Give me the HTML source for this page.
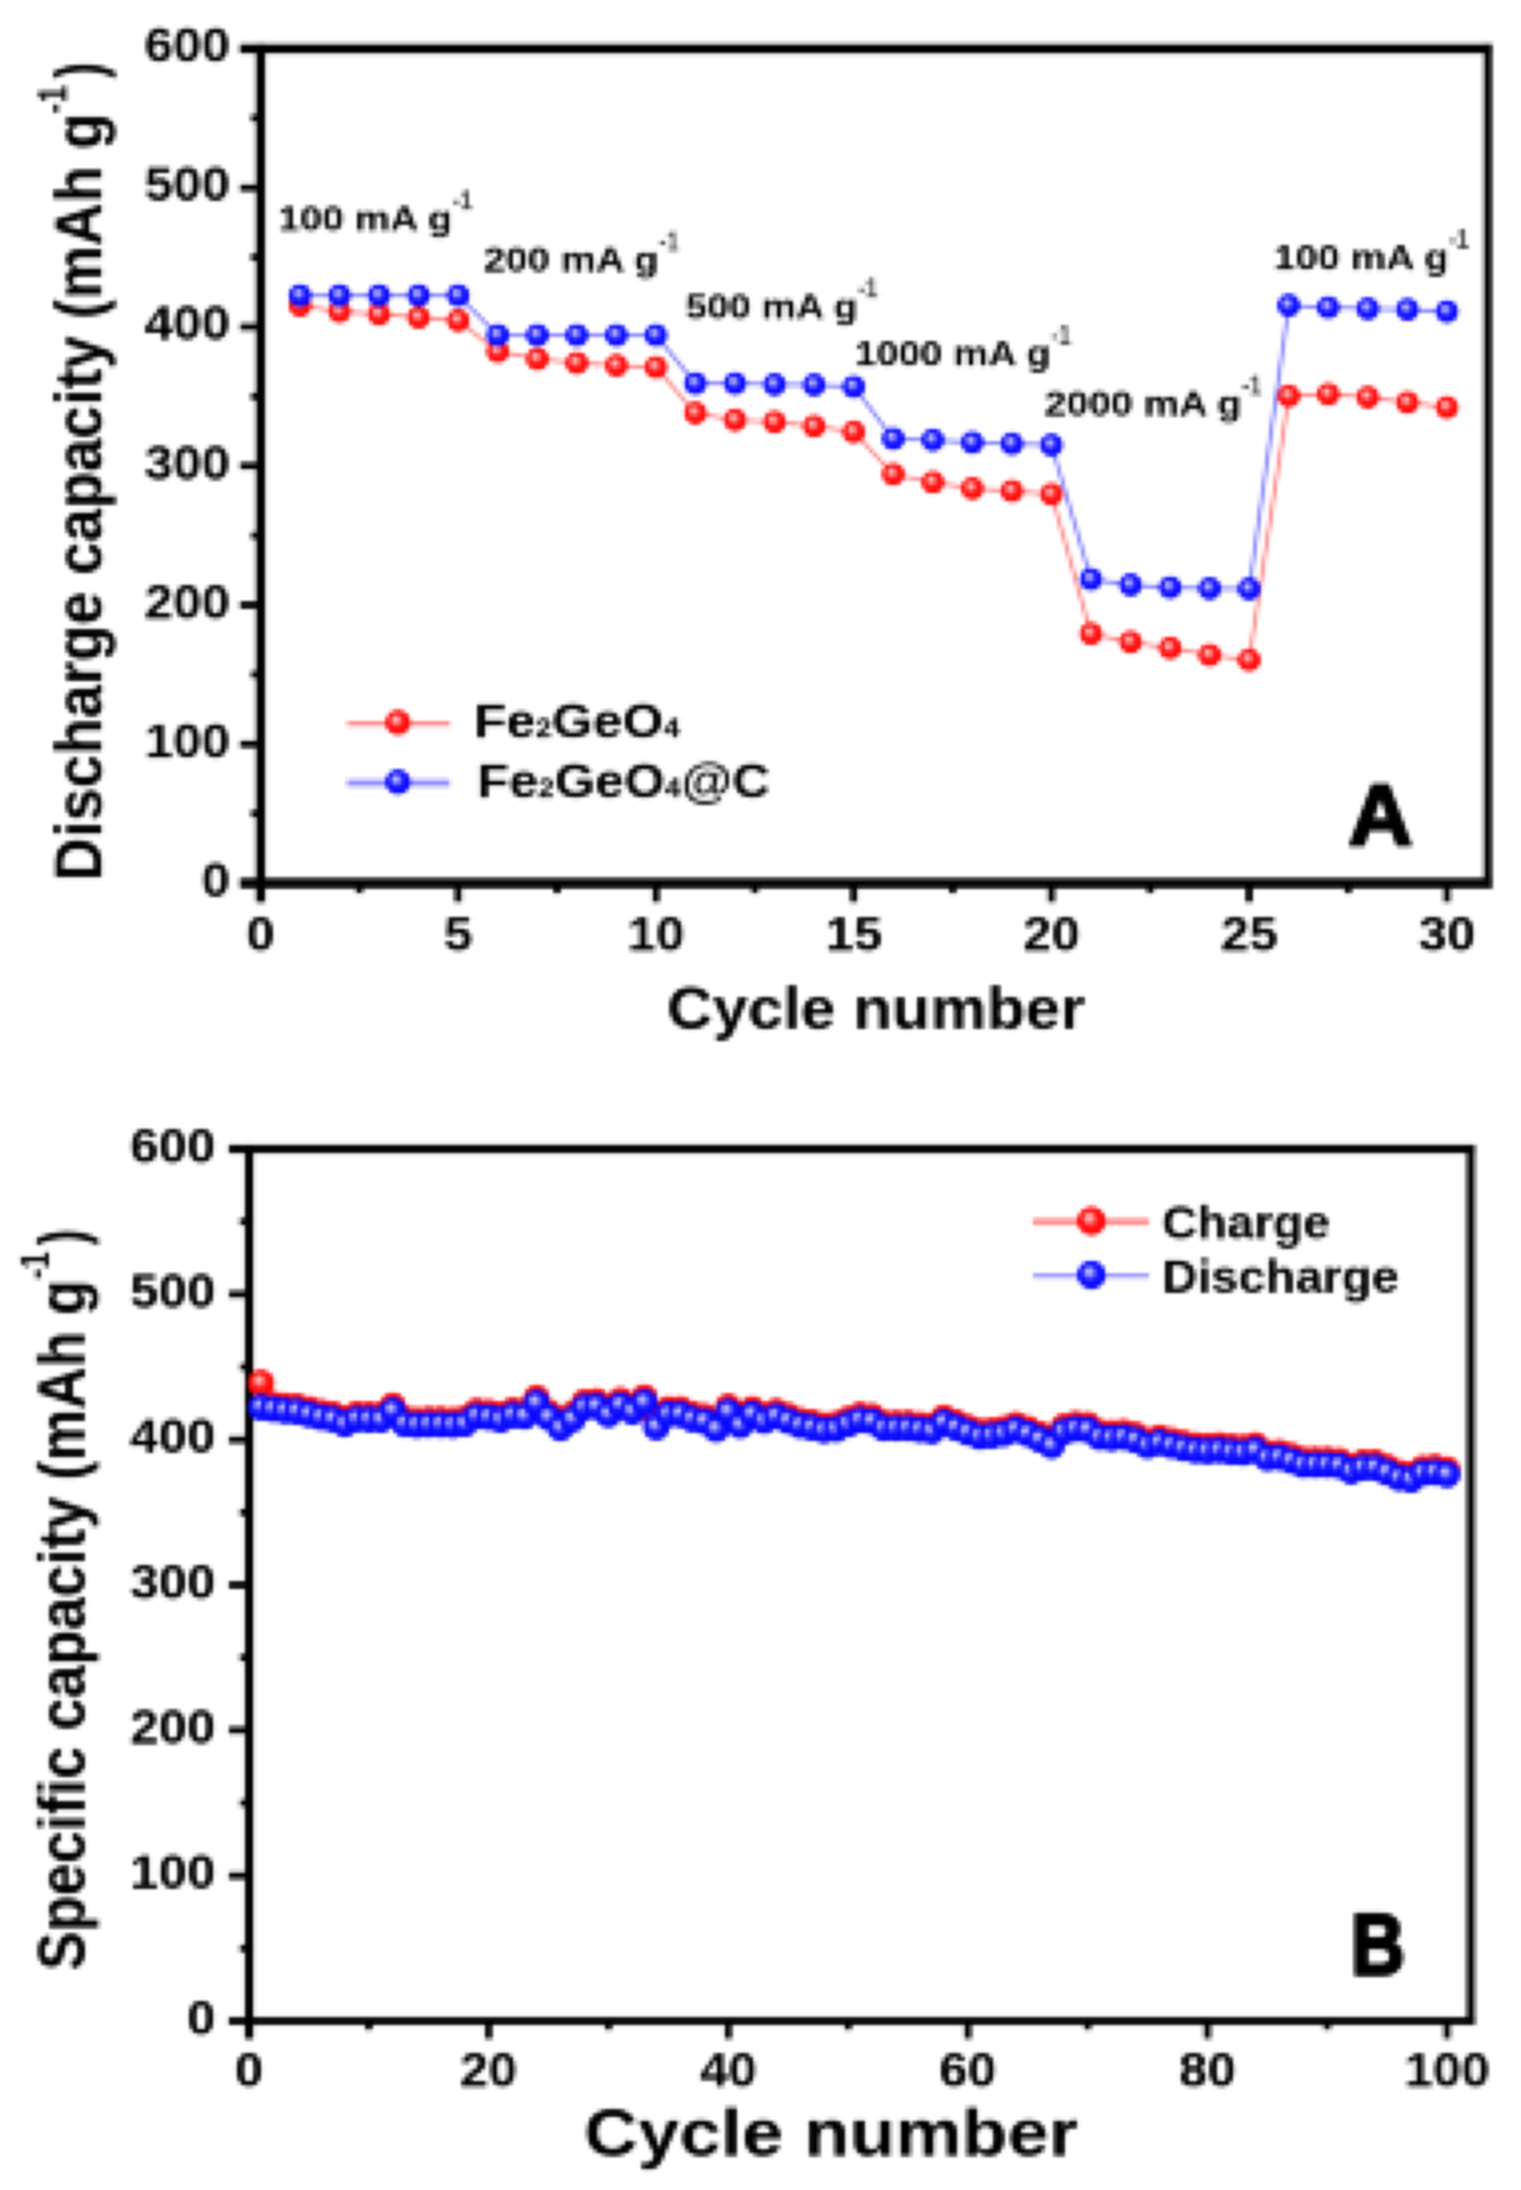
<!DOCTYPE html>
<html lang="en"><head><meta charset="utf-8"><title>Rate capability and cycling performance</title>
<style>
html,body{margin:0;padding:0;background:#fff;}
body{width:1521px;height:2190px;overflow:hidden;}
svg{display:block;font-family:"Liberation Sans", Arial, Helvetica, sans-serif;}
</style></head><body>
<svg width="1521" height="2190" viewBox="0 0 1521 2190">
<defs>
<radialGradient id="gr" cx="0.5" cy="0.5" r="0.5" fx="0.38" fy="0.34">
<stop offset="0" stop-color="#ffe4e4"/><stop offset="0.24" stop-color="#ffa0a0"/><stop offset="0.55" stop-color="#ff1818"/><stop offset="1" stop-color="#ff0000"/>
</radialGradient>
<radialGradient id="gb" cx="0.5" cy="0.5" r="0.5" fx="0.38" fy="0.34">
<stop offset="0" stop-color="#e4e4ff"/><stop offset="0.24" stop-color="#a0a0ff"/><stop offset="0.55" stop-color="#1818ff"/><stop offset="1" stop-color="#0000ff"/>
</radialGradient>
<filter id="plain" x="0" y="0" width="1521" height="2190" filterUnits="userSpaceOnUse"><feGaussianBlur stdDeviation="1.7"/></filter>
<filter id="soft" x="0" y="0" width="1521" height="2190" filterUnits="userSpaceOnUse" color-interpolation-filters="sRGB">
<feGaussianBlur in="SourceGraphic" stdDeviation="1.0" result="b"/>
<feFlood x="2" y="2" width="1" height="1" flood-color="#000" result="px"/>
<feComposite in="px" in2="px" operator="over" x="1" y="1" width="4" height="4" result="cell"/>
<feTile in="cell" x="0" y="0" width="1521" height="2190" result="grid"/>
<feComposite in="b" in2="grid" operator="in" result="samp0"/>
<feComponentTransfer in="samp0" result="samp"><feFuncA type="discrete" tableValues="0 1 1 1 1 1 1 1 1 1 1 1"/></feComponentTransfer>
<feMorphology in="samp" operator="dilate" radius="1" result="d3"/>
<feOffset in="d3" dx="1" dy="0" result="o1"/>
<feOffset in="d3" dx="0" dy="1" result="o2"/>
<feOffset in="d3" dx="1" dy="1" result="o3"/>
<feMerge result="blocks"><feMergeNode in="d3"/><feMergeNode in="o1"/><feMergeNode in="o2"/><feMergeNode in="o3"/></feMerge>
<feGaussianBlur in="blocks" stdDeviation="0.9"/>
</filter>
</defs>
<rect width="1521" height="2190" fill="#fff"/>
<g filter="url(#plain)"><g id="fig">
<line x1="240.0" y1="48.7" x2="1491.8" y2="48.7" stroke="#000" stroke-width="9.5"/>
<line x1="240.0" y1="883.2" x2="1491.8" y2="883.2" stroke="#000" stroke-width="10"/>
<line x1="260.6" y1="43.95" x2="260.6" y2="902.2" stroke="#000" stroke-width="9.3"/>
<line x1="1487.8" y1="43.95" x2="1487.8" y2="888.2" stroke="#000" stroke-width="8"/>
<line x1="240.0" y1="883.2" x2="260.6" y2="883.2" stroke="#000" stroke-width="7"/>
<line x1="240.0" y1="744.1" x2="260.6" y2="744.1" stroke="#000" stroke-width="7"/>
<line x1="240.0" y1="605.0" x2="260.6" y2="605.0" stroke="#000" stroke-width="7"/>
<line x1="240.0" y1="466.0" x2="260.6" y2="466.0" stroke="#000" stroke-width="7"/>
<line x1="240.0" y1="326.9" x2="260.6" y2="326.9" stroke="#000" stroke-width="7"/>
<line x1="240.0" y1="187.8" x2="260.6" y2="187.8" stroke="#000" stroke-width="7"/>
<line x1="240.0" y1="48.7" x2="260.6" y2="48.7" stroke="#000" stroke-width="7"/>
<line x1="251.0" y1="813.7" x2="260.6" y2="813.7" stroke="#000" stroke-width="7"/>
<line x1="251.0" y1="674.6" x2="260.6" y2="674.6" stroke="#000" stroke-width="7"/>
<line x1="251.0" y1="535.5" x2="260.6" y2="535.5" stroke="#000" stroke-width="7"/>
<line x1="251.0" y1="396.4" x2="260.6" y2="396.4" stroke="#000" stroke-width="7"/>
<line x1="251.0" y1="257.3" x2="260.6" y2="257.3" stroke="#000" stroke-width="7"/>
<line x1="251.0" y1="118.2" x2="260.6" y2="118.2" stroke="#000" stroke-width="7"/>
<line x1="260.5" y1="883.2" x2="260.5" y2="902.2" stroke="#000" stroke-width="7"/>
<line x1="458.2" y1="883.2" x2="458.2" y2="902.2" stroke="#000" stroke-width="7"/>
<line x1="656.0" y1="883.2" x2="656.0" y2="902.2" stroke="#000" stroke-width="7"/>
<line x1="853.8" y1="883.2" x2="853.8" y2="902.2" stroke="#000" stroke-width="7"/>
<line x1="1051.5" y1="883.2" x2="1051.5" y2="902.2" stroke="#000" stroke-width="7"/>
<line x1="1249.2" y1="883.2" x2="1249.2" y2="902.2" stroke="#000" stroke-width="7"/>
<line x1="1447.0" y1="883.2" x2="1447.0" y2="902.2" stroke="#000" stroke-width="7"/>
<line x1="359.4" y1="883.2" x2="359.4" y2="893.2" stroke="#000" stroke-width="7"/>
<line x1="557.1" y1="883.2" x2="557.1" y2="893.2" stroke="#000" stroke-width="7"/>
<line x1="754.9" y1="883.2" x2="754.9" y2="893.2" stroke="#000" stroke-width="7"/>
<line x1="952.6" y1="883.2" x2="952.6" y2="893.2" stroke="#000" stroke-width="7"/>
<line x1="1150.4" y1="883.2" x2="1150.4" y2="893.2" stroke="#000" stroke-width="7"/>
<line x1="1348.1" y1="883.2" x2="1348.1" y2="893.2" stroke="#000" stroke-width="7"/>
<polyline points="300.1,305.6 339.6,311.6 379.1,314.3 418.7,317.5 458.2,320.6 497.8,351.5 537.4,358.9 576.9,363.0 616.5,365.5 656.0,367.2 695.5,413.1 735.1,420.1 774.6,422.0 814.2,426.3 853.8,431.9 893.3,474.3 932.9,482.2 972.4,488.5 1012.0,491.0 1051.5,494.3 1091.0,633.8 1130.6,642.0 1170.2,648.1 1209.7,655.1 1249.2,660.0 1288.8,396.0 1328.3,394.3 1367.9,397.2 1407.5,402.5 1447.0,407.4" fill="none" stroke="#ff8585" stroke-width="3.4"/>
<circle cx="300.1" cy="305.6" r="11.3" fill="url(#gr)"/>
<circle cx="339.6" cy="311.6" r="11.3" fill="url(#gr)"/>
<circle cx="379.1" cy="314.3" r="11.3" fill="url(#gr)"/>
<circle cx="418.7" cy="317.5" r="11.3" fill="url(#gr)"/>
<circle cx="458.2" cy="320.6" r="11.3" fill="url(#gr)"/>
<circle cx="497.8" cy="351.5" r="11.3" fill="url(#gr)"/>
<circle cx="537.4" cy="358.9" r="11.3" fill="url(#gr)"/>
<circle cx="576.9" cy="363.0" r="11.3" fill="url(#gr)"/>
<circle cx="616.5" cy="365.5" r="11.3" fill="url(#gr)"/>
<circle cx="656.0" cy="367.2" r="11.3" fill="url(#gr)"/>
<circle cx="695.5" cy="413.1" r="11.3" fill="url(#gr)"/>
<circle cx="735.1" cy="420.1" r="11.3" fill="url(#gr)"/>
<circle cx="774.6" cy="422.0" r="11.3" fill="url(#gr)"/>
<circle cx="814.2" cy="426.3" r="11.3" fill="url(#gr)"/>
<circle cx="853.8" cy="431.9" r="11.3" fill="url(#gr)"/>
<circle cx="893.3" cy="474.3" r="11.3" fill="url(#gr)"/>
<circle cx="932.9" cy="482.2" r="11.3" fill="url(#gr)"/>
<circle cx="972.4" cy="488.5" r="11.3" fill="url(#gr)"/>
<circle cx="1012.0" cy="491.0" r="11.3" fill="url(#gr)"/>
<circle cx="1051.5" cy="494.3" r="11.3" fill="url(#gr)"/>
<circle cx="1091.0" cy="633.8" r="11.3" fill="url(#gr)"/>
<circle cx="1130.6" cy="642.0" r="11.3" fill="url(#gr)"/>
<circle cx="1170.2" cy="648.1" r="11.3" fill="url(#gr)"/>
<circle cx="1209.7" cy="655.1" r="11.3" fill="url(#gr)"/>
<circle cx="1249.2" cy="660.0" r="11.3" fill="url(#gr)"/>
<circle cx="1288.8" cy="396.0" r="11.3" fill="url(#gr)"/>
<circle cx="1328.3" cy="394.3" r="11.3" fill="url(#gr)"/>
<circle cx="1367.9" cy="397.2" r="11.3" fill="url(#gr)"/>
<circle cx="1407.5" cy="402.5" r="11.3" fill="url(#gr)"/>
<circle cx="1447.0" cy="407.4" r="11.3" fill="url(#gr)"/>
<polyline points="300.1,295.6 339.6,295.6 379.1,295.6 418.7,295.6 458.2,295.6 497.8,335.2 537.4,335.2 576.9,335.2 616.5,335.2 656.0,335.2 695.5,383.5 735.1,383.5 774.6,384.6 814.2,384.9 853.8,386.7 893.3,438.8 932.9,440.1 972.4,442.6 1012.0,443.7 1051.5,445.1 1091.0,579.3 1130.6,584.9 1170.2,587.6 1209.7,588.6 1249.2,588.9 1288.8,305.4 1328.3,307.5 1367.9,308.8 1407.5,309.5 1447.0,311.6" fill="none" stroke="#8585ff" stroke-width="3.6"/>
<circle cx="300.1" cy="295.6" r="11.3" fill="url(#gb)"/>
<circle cx="339.6" cy="295.6" r="11.3" fill="url(#gb)"/>
<circle cx="379.1" cy="295.6" r="11.3" fill="url(#gb)"/>
<circle cx="418.7" cy="295.6" r="11.3" fill="url(#gb)"/>
<circle cx="458.2" cy="295.6" r="11.3" fill="url(#gb)"/>
<circle cx="497.8" cy="335.2" r="11.3" fill="url(#gb)"/>
<circle cx="537.4" cy="335.2" r="11.3" fill="url(#gb)"/>
<circle cx="576.9" cy="335.2" r="11.3" fill="url(#gb)"/>
<circle cx="616.5" cy="335.2" r="11.3" fill="url(#gb)"/>
<circle cx="656.0" cy="335.2" r="11.3" fill="url(#gb)"/>
<circle cx="695.5" cy="383.5" r="11.3" fill="url(#gb)"/>
<circle cx="735.1" cy="383.5" r="11.3" fill="url(#gb)"/>
<circle cx="774.6" cy="384.6" r="11.3" fill="url(#gb)"/>
<circle cx="814.2" cy="384.9" r="11.3" fill="url(#gb)"/>
<circle cx="853.8" cy="386.7" r="11.3" fill="url(#gb)"/>
<circle cx="893.3" cy="438.8" r="11.3" fill="url(#gb)"/>
<circle cx="932.9" cy="440.1" r="11.3" fill="url(#gb)"/>
<circle cx="972.4" cy="442.6" r="11.3" fill="url(#gb)"/>
<circle cx="1012.0" cy="443.7" r="11.3" fill="url(#gb)"/>
<circle cx="1051.5" cy="445.1" r="11.3" fill="url(#gb)"/>
<circle cx="1091.0" cy="579.3" r="11.3" fill="url(#gb)"/>
<circle cx="1130.6" cy="584.9" r="11.3" fill="url(#gb)"/>
<circle cx="1170.2" cy="587.6" r="11.3" fill="url(#gb)"/>
<circle cx="1209.7" cy="588.6" r="11.3" fill="url(#gb)"/>
<circle cx="1249.2" cy="588.9" r="11.3" fill="url(#gb)"/>
<circle cx="1288.8" cy="305.4" r="11.3" fill="url(#gb)"/>
<circle cx="1328.3" cy="307.5" r="11.3" fill="url(#gb)"/>
<circle cx="1367.9" cy="308.8" r="11.3" fill="url(#gb)"/>
<circle cx="1407.5" cy="309.5" r="11.3" fill="url(#gb)"/>
<circle cx="1447.0" cy="311.6" r="11.3" fill="url(#gb)"/>
<text x="230.0" y="896.2" font-size="47.5" font-weight="bold" text-anchor="end" fill="#000" textLength="28.5" lengthAdjust="spacingAndGlyphs">0</text>
<text x="230.0" y="757.1" font-size="47.5" font-weight="bold" text-anchor="end" fill="#000" textLength="85.5" lengthAdjust="spacingAndGlyphs">100</text>
<text x="230.0" y="618.0" font-size="47.5" font-weight="bold" text-anchor="end" fill="#000" textLength="85.5" lengthAdjust="spacingAndGlyphs">200</text>
<text x="230.0" y="479.0" font-size="47.5" font-weight="bold" text-anchor="end" fill="#000" textLength="85.5" lengthAdjust="spacingAndGlyphs">300</text>
<text x="230.0" y="339.9" font-size="47.5" font-weight="bold" text-anchor="end" fill="#000" textLength="85.5" lengthAdjust="spacingAndGlyphs">400</text>
<text x="230.0" y="200.8" font-size="47.5" font-weight="bold" text-anchor="end" fill="#000" textLength="85.5" lengthAdjust="spacingAndGlyphs">500</text>
<text x="230.0" y="61.7" font-size="47.5" font-weight="bold" text-anchor="end" fill="#000" textLength="85.5" lengthAdjust="spacingAndGlyphs">600</text>
<text x="260.5" y="950.0" font-size="47.5" font-weight="bold" text-anchor="middle" fill="#000" textLength="28.5" lengthAdjust="spacingAndGlyphs">0</text>
<text x="458.2" y="950.0" font-size="47.5" font-weight="bold" text-anchor="middle" fill="#000" textLength="28.5" lengthAdjust="spacingAndGlyphs">5</text>
<text x="656.0" y="950.0" font-size="47.5" font-weight="bold" text-anchor="middle" fill="#000" textLength="57.0" lengthAdjust="spacingAndGlyphs">10</text>
<text x="853.8" y="950.0" font-size="47.5" font-weight="bold" text-anchor="middle" fill="#000" textLength="57.0" lengthAdjust="spacingAndGlyphs">15</text>
<text x="1051.5" y="950.0" font-size="47.5" font-weight="bold" text-anchor="middle" fill="#000" textLength="57.0" lengthAdjust="spacingAndGlyphs">20</text>
<text x="1249.2" y="950.0" font-size="47.5" font-weight="bold" text-anchor="middle" fill="#000" textLength="57.0" lengthAdjust="spacingAndGlyphs">25</text>
<text x="1447.0" y="950.0" font-size="47.5" font-weight="bold" text-anchor="middle" fill="#000" textLength="57.0" lengthAdjust="spacingAndGlyphs">30</text>
<text x="667.0" y="1028.0" font-size="60" font-weight="bold" text-anchor="start" fill="#000" textLength="418" lengthAdjust="spacingAndGlyphs">Cycle number</text>
<text transform="translate(101.5,881) rotate(-90)" font-size="66" font-weight="bold" textLength="768" lengthAdjust="spacingAndGlyphs">Discharge capacity (mAh g</text>
<text transform="translate(66,113.5) rotate(-90)" font-size="40" font-weight="bold" textLength="28" lengthAdjust="spacingAndGlyphs">-1</text>
<text transform="translate(101.5,78.5) rotate(-90)" font-size="66" font-weight="bold" textLength="16.5" lengthAdjust="spacingAndGlyphs">)</text>
<text x="278" y="230" font-size="35" font-weight="bold" textLength="174" lengthAdjust="spacingAndGlyphs">100 mA g</text>
<text x="452.5" y="209" font-size="27" font-weight="bold" textLength="20" lengthAdjust="spacingAndGlyphs" fill="#333">-1</text>
<text x="483.5" y="271.5" font-size="35" font-weight="bold" textLength="175" lengthAdjust="spacingAndGlyphs">200 mA g</text>
<text x="659.0" y="250.5" font-size="27" font-weight="bold" textLength="20" lengthAdjust="spacingAndGlyphs" fill="#333">-1</text>
<text x="685.5" y="318" font-size="35" font-weight="bold" textLength="172" lengthAdjust="spacingAndGlyphs">500 mA g</text>
<text x="858.0" y="297" font-size="27" font-weight="bold" textLength="20" lengthAdjust="spacingAndGlyphs" fill="#333">-1</text>
<text x="854.5" y="365.5" font-size="35" font-weight="bold" textLength="196" lengthAdjust="spacingAndGlyphs">1000 mA g</text>
<text x="1051.0" y="344.5" font-size="27" font-weight="bold" textLength="20" lengthAdjust="spacingAndGlyphs" fill="#333">-1</text>
<text x="1044.5" y="415.5" font-size="35" font-weight="bold" textLength="197" lengthAdjust="spacingAndGlyphs">2000 mA g</text>
<text x="1242.0" y="394.5" font-size="27" font-weight="bold" textLength="20" lengthAdjust="spacingAndGlyphs" fill="#333">-1</text>
<text x="1273.5" y="269" font-size="35" font-weight="bold" textLength="175" lengthAdjust="spacingAndGlyphs">100 mA g</text>
<text x="1449.0" y="248" font-size="27" font-weight="bold" textLength="20" lengthAdjust="spacingAndGlyphs" fill="#333">-1</text>
<line x1="347" y1="724" x2="450" y2="724" stroke="#ff7474" stroke-width="4"/>
<circle cx="398.0" cy="722.5" r="12.5" fill="url(#gr)"/>
<line x1="347" y1="783" x2="450" y2="783" stroke="#9090ff" stroke-width="7"/>
<circle cx="398.0" cy="782.0" r="12.5" fill="url(#gb)"/>
<text x="474" y="737" font-size="48" font-weight="bold" textLength="206" lengthAdjust="spacingAndGlyphs">Fe<tspan font-size="27">2</tspan>GeO<tspan font-size="27">4</tspan></text>
<text x="477" y="797" font-size="48" font-weight="bold" textLength="293" lengthAdjust="spacingAndGlyphs">Fe<tspan font-size="27">2</tspan>GeO<tspan font-size="27">4</tspan>@C</text>
<text x="1380.5" y="844.5" font-size="88" font-weight="bold" text-anchor="middle" stroke="#000" stroke-width="3" stroke-linejoin="round" textLength="64.5" lengthAdjust="spacingAndGlyphs">A</text>
<line x1="228.9" y1="1149.0" x2="1474.8" y2="1149.0" stroke="#000" stroke-width="8.4"/>
<line x1="228.9" y1="2021.0" x2="1474.8" y2="2021.0" stroke="#000" stroke-width="7.5"/>
<line x1="249.2" y1="1144.8" x2="249.2" y2="2038.8" stroke="#000" stroke-width="8.6"/>
<line x1="1470.8" y1="1144.8" x2="1470.8" y2="2024.75" stroke="#000" stroke-width="8"/>
<line x1="228.9" y1="2021.0" x2="249.2" y2="2021.0" stroke="#000" stroke-width="7"/>
<line x1="228.9" y1="1875.7" x2="249.2" y2="1875.7" stroke="#000" stroke-width="7"/>
<line x1="228.9" y1="1730.3" x2="249.2" y2="1730.3" stroke="#000" stroke-width="7"/>
<line x1="228.9" y1="1585.0" x2="249.2" y2="1585.0" stroke="#000" stroke-width="7"/>
<line x1="228.9" y1="1439.7" x2="249.2" y2="1439.7" stroke="#000" stroke-width="7"/>
<line x1="228.9" y1="1294.3" x2="249.2" y2="1294.3" stroke="#000" stroke-width="7"/>
<line x1="228.9" y1="1149.0" x2="249.2" y2="1149.0" stroke="#000" stroke-width="7"/>
<line x1="239.9" y1="1948.3" x2="249.2" y2="1948.3" stroke="#000" stroke-width="7"/>
<line x1="239.9" y1="1803.0" x2="249.2" y2="1803.0" stroke="#000" stroke-width="7"/>
<line x1="239.9" y1="1657.7" x2="249.2" y2="1657.7" stroke="#000" stroke-width="7"/>
<line x1="239.9" y1="1512.3" x2="249.2" y2="1512.3" stroke="#000" stroke-width="7"/>
<line x1="239.9" y1="1367.0" x2="249.2" y2="1367.0" stroke="#000" stroke-width="7"/>
<line x1="239.9" y1="1221.7" x2="249.2" y2="1221.7" stroke="#000" stroke-width="7"/>
<line x1="249.0" y1="2021.0" x2="249.0" y2="2038.8" stroke="#000" stroke-width="7"/>
<line x1="488.6" y1="2021.0" x2="488.6" y2="2038.8" stroke="#000" stroke-width="7"/>
<line x1="728.2" y1="2021.0" x2="728.2" y2="2038.8" stroke="#000" stroke-width="7"/>
<line x1="967.8" y1="2021.0" x2="967.8" y2="2038.8" stroke="#000" stroke-width="7"/>
<line x1="1207.4" y1="2021.0" x2="1207.4" y2="2038.8" stroke="#000" stroke-width="7"/>
<line x1="1447.0" y1="2021.0" x2="1447.0" y2="2038.8" stroke="#000" stroke-width="7"/>
<line x1="368.8" y1="2021.0" x2="368.8" y2="2029.8" stroke="#000" stroke-width="7"/>
<line x1="608.4" y1="2021.0" x2="608.4" y2="2029.8" stroke="#000" stroke-width="7"/>
<line x1="848.0" y1="2021.0" x2="848.0" y2="2029.8" stroke="#000" stroke-width="7"/>
<line x1="1087.6" y1="2021.0" x2="1087.6" y2="2029.8" stroke="#000" stroke-width="7"/>
<line x1="1327.2" y1="2021.0" x2="1327.2" y2="2029.8" stroke="#000" stroke-width="7"/>
<clipPath id="clipB"><rect x="248" y="1153" width="1240" height="864"/></clipPath>
<g clip-path="url(#clipB)">
<polyline points="261.0,1383.0 273.0,1404.2 284.9,1405.8 296.9,1406.5 308.9,1409.4 320.9,1412.3 332.9,1414.2 344.8,1418.9 356.8,1414.2 368.8,1414.7 380.8,1414.7 392.8,1405.8 404.7,1418.9 416.7,1420.2 428.7,1419.6 440.7,1419.6 452.7,1420.2 464.6,1418.9 476.6,1411.3 488.6,1412.3 500.6,1414.7 512.6,1410.5 524.5,1411.3 536.5,1398.1 548.5,1412.3 560.5,1423.0 572.5,1414.2 584.4,1402.3 596.4,1401.4 608.4,1409.4 620.4,1400.3 632.4,1406.5 644.3,1397.5 656.3,1422.1 668.3,1409.4 680.3,1409.4 692.3,1414.2 704.2,1416.4 716.2,1424.1 728.2,1406.8 740.2,1420.5 752.2,1409.4 764.1,1415.8 776.1,1411.5 788.1,1415.8 800.1,1420.5 812.1,1422.5 824.0,1425.3 836.0,1424.1 848.0,1419.2 860.0,1415.1 872.0,1416.4 883.9,1423.2 895.9,1423.2 907.9,1423.2 919.9,1424.7 931.9,1426.0 943.8,1417.7 955.8,1422.5 967.8,1427.5 979.8,1431.5 991.8,1430.8 1003.7,1428.8 1015.7,1424.7 1027.7,1428.8 1039.7,1434.4 1051.7,1440.7 1063.6,1426.9 1075.6,1424.0 1087.6,1424.8 1099.6,1432.3 1111.6,1433.1 1123.5,1432.3 1135.5,1435.0 1147.5,1440.5 1159.5,1437.8 1171.5,1440.5 1183.4,1443.3 1195.4,1445.3 1207.4,1446.1 1219.4,1445.3 1231.4,1446.9 1243.3,1447.5 1255.3,1445.3 1267.3,1453.0 1279.3,1452.5 1291.3,1455.8 1303.2,1459.9 1315.2,1459.9 1327.2,1459.9 1339.2,1460.7 1351.2,1466.3 1363.1,1462.6 1375.1,1462.6 1387.1,1467.4 1399.1,1472.9 1411.1,1474.5 1423.0,1468.2 1435.0,1467.4 1447.0,1469.6" fill="none" stroke="#ff8a8a" stroke-width="3"/>
<circle cx="261.0" cy="1383.0" r="13.3" fill="url(#gr)"/>
<circle cx="273.0" cy="1404.2" r="13.3" fill="url(#gr)"/>
<circle cx="284.9" cy="1405.8" r="13.3" fill="url(#gr)"/>
<circle cx="296.9" cy="1406.5" r="13.3" fill="url(#gr)"/>
<circle cx="308.9" cy="1409.4" r="13.3" fill="url(#gr)"/>
<circle cx="320.9" cy="1412.3" r="13.3" fill="url(#gr)"/>
<circle cx="332.9" cy="1414.2" r="13.3" fill="url(#gr)"/>
<circle cx="344.8" cy="1418.9" r="13.3" fill="url(#gr)"/>
<circle cx="356.8" cy="1414.2" r="13.3" fill="url(#gr)"/>
<circle cx="368.8" cy="1414.7" r="13.3" fill="url(#gr)"/>
<circle cx="380.8" cy="1414.7" r="13.3" fill="url(#gr)"/>
<circle cx="392.8" cy="1405.8" r="13.3" fill="url(#gr)"/>
<circle cx="404.7" cy="1418.9" r="13.3" fill="url(#gr)"/>
<circle cx="416.7" cy="1420.2" r="13.3" fill="url(#gr)"/>
<circle cx="428.7" cy="1419.6" r="13.3" fill="url(#gr)"/>
<circle cx="440.7" cy="1419.6" r="13.3" fill="url(#gr)"/>
<circle cx="452.7" cy="1420.2" r="13.3" fill="url(#gr)"/>
<circle cx="464.6" cy="1418.9" r="13.3" fill="url(#gr)"/>
<circle cx="476.6" cy="1411.3" r="13.3" fill="url(#gr)"/>
<circle cx="488.6" cy="1412.3" r="13.3" fill="url(#gr)"/>
<circle cx="500.6" cy="1414.7" r="13.3" fill="url(#gr)"/>
<circle cx="512.6" cy="1410.5" r="13.3" fill="url(#gr)"/>
<circle cx="524.5" cy="1411.3" r="13.3" fill="url(#gr)"/>
<circle cx="536.5" cy="1398.1" r="13.3" fill="url(#gr)"/>
<circle cx="548.5" cy="1412.3" r="13.3" fill="url(#gr)"/>
<circle cx="560.5" cy="1423.0" r="13.3" fill="url(#gr)"/>
<circle cx="572.5" cy="1414.2" r="13.3" fill="url(#gr)"/>
<circle cx="584.4" cy="1402.3" r="13.3" fill="url(#gr)"/>
<circle cx="596.4" cy="1401.4" r="13.3" fill="url(#gr)"/>
<circle cx="608.4" cy="1409.4" r="13.3" fill="url(#gr)"/>
<circle cx="620.4" cy="1400.3" r="13.3" fill="url(#gr)"/>
<circle cx="632.4" cy="1406.5" r="13.3" fill="url(#gr)"/>
<circle cx="644.3" cy="1397.5" r="13.3" fill="url(#gr)"/>
<circle cx="656.3" cy="1422.1" r="13.3" fill="url(#gr)"/>
<circle cx="668.3" cy="1409.4" r="13.3" fill="url(#gr)"/>
<circle cx="680.3" cy="1409.4" r="13.3" fill="url(#gr)"/>
<circle cx="692.3" cy="1414.2" r="13.3" fill="url(#gr)"/>
<circle cx="704.2" cy="1416.4" r="13.3" fill="url(#gr)"/>
<circle cx="716.2" cy="1424.1" r="13.3" fill="url(#gr)"/>
<circle cx="728.2" cy="1406.8" r="13.3" fill="url(#gr)"/>
<circle cx="740.2" cy="1420.5" r="13.3" fill="url(#gr)"/>
<circle cx="752.2" cy="1409.4" r="13.3" fill="url(#gr)"/>
<circle cx="764.1" cy="1415.8" r="13.3" fill="url(#gr)"/>
<circle cx="776.1" cy="1411.5" r="13.3" fill="url(#gr)"/>
<circle cx="788.1" cy="1415.8" r="13.3" fill="url(#gr)"/>
<circle cx="800.1" cy="1420.5" r="13.3" fill="url(#gr)"/>
<circle cx="812.1" cy="1422.5" r="13.3" fill="url(#gr)"/>
<circle cx="824.0" cy="1425.3" r="13.3" fill="url(#gr)"/>
<circle cx="836.0" cy="1424.1" r="13.3" fill="url(#gr)"/>
<circle cx="848.0" cy="1419.2" r="13.3" fill="url(#gr)"/>
<circle cx="860.0" cy="1415.1" r="13.3" fill="url(#gr)"/>
<circle cx="872.0" cy="1416.4" r="13.3" fill="url(#gr)"/>
<circle cx="883.9" cy="1423.2" r="13.3" fill="url(#gr)"/>
<circle cx="895.9" cy="1423.2" r="13.3" fill="url(#gr)"/>
<circle cx="907.9" cy="1423.2" r="13.3" fill="url(#gr)"/>
<circle cx="919.9" cy="1424.7" r="13.3" fill="url(#gr)"/>
<circle cx="931.9" cy="1426.0" r="13.3" fill="url(#gr)"/>
<circle cx="943.8" cy="1417.7" r="13.3" fill="url(#gr)"/>
<circle cx="955.8" cy="1422.5" r="13.3" fill="url(#gr)"/>
<circle cx="967.8" cy="1427.5" r="13.3" fill="url(#gr)"/>
<circle cx="979.8" cy="1431.5" r="13.3" fill="url(#gr)"/>
<circle cx="991.8" cy="1430.8" r="13.3" fill="url(#gr)"/>
<circle cx="1003.7" cy="1428.8" r="13.3" fill="url(#gr)"/>
<circle cx="1015.7" cy="1424.7" r="13.3" fill="url(#gr)"/>
<circle cx="1027.7" cy="1428.8" r="13.3" fill="url(#gr)"/>
<circle cx="1039.7" cy="1434.4" r="13.3" fill="url(#gr)"/>
<circle cx="1051.7" cy="1440.7" r="13.3" fill="url(#gr)"/>
<circle cx="1063.6" cy="1426.9" r="13.3" fill="url(#gr)"/>
<circle cx="1075.6" cy="1424.0" r="13.3" fill="url(#gr)"/>
<circle cx="1087.6" cy="1424.8" r="13.3" fill="url(#gr)"/>
<circle cx="1099.6" cy="1432.3" r="13.3" fill="url(#gr)"/>
<circle cx="1111.6" cy="1433.1" r="13.3" fill="url(#gr)"/>
<circle cx="1123.5" cy="1432.3" r="13.3" fill="url(#gr)"/>
<circle cx="1135.5" cy="1435.0" r="13.3" fill="url(#gr)"/>
<circle cx="1147.5" cy="1440.5" r="13.3" fill="url(#gr)"/>
<circle cx="1159.5" cy="1437.8" r="13.3" fill="url(#gr)"/>
<circle cx="1171.5" cy="1440.5" r="13.3" fill="url(#gr)"/>
<circle cx="1183.4" cy="1443.3" r="13.3" fill="url(#gr)"/>
<circle cx="1195.4" cy="1445.3" r="13.3" fill="url(#gr)"/>
<circle cx="1207.4" cy="1446.1" r="13.3" fill="url(#gr)"/>
<circle cx="1219.4" cy="1445.3" r="13.3" fill="url(#gr)"/>
<circle cx="1231.4" cy="1446.9" r="13.3" fill="url(#gr)"/>
<circle cx="1243.3" cy="1447.5" r="13.3" fill="url(#gr)"/>
<circle cx="1255.3" cy="1445.3" r="13.3" fill="url(#gr)"/>
<circle cx="1267.3" cy="1453.0" r="13.3" fill="url(#gr)"/>
<circle cx="1279.3" cy="1452.5" r="13.3" fill="url(#gr)"/>
<circle cx="1291.3" cy="1455.8" r="13.3" fill="url(#gr)"/>
<circle cx="1303.2" cy="1459.9" r="13.3" fill="url(#gr)"/>
<circle cx="1315.2" cy="1459.9" r="13.3" fill="url(#gr)"/>
<circle cx="1327.2" cy="1459.9" r="13.3" fill="url(#gr)"/>
<circle cx="1339.2" cy="1460.7" r="13.3" fill="url(#gr)"/>
<circle cx="1351.2" cy="1466.3" r="13.3" fill="url(#gr)"/>
<circle cx="1363.1" cy="1462.6" r="13.3" fill="url(#gr)"/>
<circle cx="1375.1" cy="1462.6" r="13.3" fill="url(#gr)"/>
<circle cx="1387.1" cy="1467.4" r="13.3" fill="url(#gr)"/>
<circle cx="1399.1" cy="1472.9" r="13.3" fill="url(#gr)"/>
<circle cx="1411.1" cy="1474.5" r="13.3" fill="url(#gr)"/>
<circle cx="1423.0" cy="1468.2" r="13.3" fill="url(#gr)"/>
<circle cx="1435.0" cy="1467.4" r="13.3" fill="url(#gr)"/>
<circle cx="1447.0" cy="1469.6" r="13.3" fill="url(#gr)"/>
<polyline points="261.0,1407.3 273.0,1409.1 284.9,1410.7 296.9,1411.5 308.9,1414.4 320.9,1417.3 332.9,1419.2 344.8,1423.8 356.8,1419.2 368.8,1419.6 380.8,1419.6 392.8,1410.7 404.7,1423.8 416.7,1425.1 428.7,1424.6 440.7,1424.6 452.7,1425.1 464.6,1423.8 476.6,1416.3 488.6,1417.3 500.6,1419.6 512.6,1415.4 524.5,1416.3 536.5,1403.0 548.5,1417.3 560.5,1427.9 572.5,1419.2 584.4,1407.3 596.4,1406.4 608.4,1414.4 620.4,1405.2 632.4,1411.5 644.3,1402.5 656.3,1427.0 668.3,1414.4 680.3,1414.4 692.3,1419.2 704.2,1421.4 716.2,1429.1 728.2,1411.8 740.2,1425.4 752.2,1414.4 764.1,1420.8 776.1,1416.4 788.1,1420.8 800.1,1425.4 812.1,1427.5 824.0,1430.2 836.0,1429.1 848.0,1424.1 860.0,1420.0 872.0,1421.4 883.9,1428.2 895.9,1428.2 907.9,1428.2 919.9,1429.6 931.9,1430.9 943.8,1422.7 955.8,1427.5 967.8,1432.4 979.8,1436.5 991.8,1435.7 1003.7,1433.7 1015.7,1429.6 1027.7,1433.7 1039.7,1439.4 1051.7,1445.6 1063.6,1431.8 1075.6,1428.9 1087.6,1429.8 1099.6,1437.2 1111.6,1438.1 1123.5,1437.2 1135.5,1440.0 1147.5,1445.5 1159.5,1442.7 1171.5,1445.5 1183.4,1448.2 1195.4,1450.3 1207.4,1451.0 1219.4,1450.3 1231.4,1451.9 1243.3,1452.5 1255.3,1450.3 1267.3,1458.0 1279.3,1457.4 1291.3,1460.7 1303.2,1464.8 1315.2,1464.8 1327.2,1464.8 1339.2,1465.7 1351.2,1471.2 1363.1,1467.6 1375.1,1467.6 1387.1,1472.4 1399.1,1477.9 1411.1,1479.5 1423.0,1473.1 1435.0,1472.4 1447.0,1474.5" fill="none" stroke="#8a8aff" stroke-width="3"/>
<circle cx="261.0" cy="1407.3" r="13.3" fill="url(#gb)"/>
<circle cx="273.0" cy="1409.1" r="13.3" fill="url(#gb)"/>
<circle cx="284.9" cy="1410.7" r="13.3" fill="url(#gb)"/>
<circle cx="296.9" cy="1411.5" r="13.3" fill="url(#gb)"/>
<circle cx="308.9" cy="1414.4" r="13.3" fill="url(#gb)"/>
<circle cx="320.9" cy="1417.3" r="13.3" fill="url(#gb)"/>
<circle cx="332.9" cy="1419.2" r="13.3" fill="url(#gb)"/>
<circle cx="344.8" cy="1423.8" r="13.3" fill="url(#gb)"/>
<circle cx="356.8" cy="1419.2" r="13.3" fill="url(#gb)"/>
<circle cx="368.8" cy="1419.6" r="13.3" fill="url(#gb)"/>
<circle cx="380.8" cy="1419.6" r="13.3" fill="url(#gb)"/>
<circle cx="392.8" cy="1410.7" r="13.3" fill="url(#gb)"/>
<circle cx="404.7" cy="1423.8" r="13.3" fill="url(#gb)"/>
<circle cx="416.7" cy="1425.1" r="13.3" fill="url(#gb)"/>
<circle cx="428.7" cy="1424.6" r="13.3" fill="url(#gb)"/>
<circle cx="440.7" cy="1424.6" r="13.3" fill="url(#gb)"/>
<circle cx="452.7" cy="1425.1" r="13.3" fill="url(#gb)"/>
<circle cx="464.6" cy="1423.8" r="13.3" fill="url(#gb)"/>
<circle cx="476.6" cy="1416.3" r="13.3" fill="url(#gb)"/>
<circle cx="488.6" cy="1417.3" r="13.3" fill="url(#gb)"/>
<circle cx="500.6" cy="1419.6" r="13.3" fill="url(#gb)"/>
<circle cx="512.6" cy="1415.4" r="13.3" fill="url(#gb)"/>
<circle cx="524.5" cy="1416.3" r="13.3" fill="url(#gb)"/>
<circle cx="536.5" cy="1403.0" r="13.3" fill="url(#gb)"/>
<circle cx="548.5" cy="1417.3" r="13.3" fill="url(#gb)"/>
<circle cx="560.5" cy="1427.9" r="13.3" fill="url(#gb)"/>
<circle cx="572.5" cy="1419.2" r="13.3" fill="url(#gb)"/>
<circle cx="584.4" cy="1407.3" r="13.3" fill="url(#gb)"/>
<circle cx="596.4" cy="1406.4" r="13.3" fill="url(#gb)"/>
<circle cx="608.4" cy="1414.4" r="13.3" fill="url(#gb)"/>
<circle cx="620.4" cy="1405.2" r="13.3" fill="url(#gb)"/>
<circle cx="632.4" cy="1411.5" r="13.3" fill="url(#gb)"/>
<circle cx="644.3" cy="1402.5" r="13.3" fill="url(#gb)"/>
<circle cx="656.3" cy="1427.0" r="13.3" fill="url(#gb)"/>
<circle cx="668.3" cy="1414.4" r="13.3" fill="url(#gb)"/>
<circle cx="680.3" cy="1414.4" r="13.3" fill="url(#gb)"/>
<circle cx="692.3" cy="1419.2" r="13.3" fill="url(#gb)"/>
<circle cx="704.2" cy="1421.4" r="13.3" fill="url(#gb)"/>
<circle cx="716.2" cy="1429.1" r="13.3" fill="url(#gb)"/>
<circle cx="728.2" cy="1411.8" r="13.3" fill="url(#gb)"/>
<circle cx="740.2" cy="1425.4" r="13.3" fill="url(#gb)"/>
<circle cx="752.2" cy="1414.4" r="13.3" fill="url(#gb)"/>
<circle cx="764.1" cy="1420.8" r="13.3" fill="url(#gb)"/>
<circle cx="776.1" cy="1416.4" r="13.3" fill="url(#gb)"/>
<circle cx="788.1" cy="1420.8" r="13.3" fill="url(#gb)"/>
<circle cx="800.1" cy="1425.4" r="13.3" fill="url(#gb)"/>
<circle cx="812.1" cy="1427.5" r="13.3" fill="url(#gb)"/>
<circle cx="824.0" cy="1430.2" r="13.3" fill="url(#gb)"/>
<circle cx="836.0" cy="1429.1" r="13.3" fill="url(#gb)"/>
<circle cx="848.0" cy="1424.1" r="13.3" fill="url(#gb)"/>
<circle cx="860.0" cy="1420.0" r="13.3" fill="url(#gb)"/>
<circle cx="872.0" cy="1421.4" r="13.3" fill="url(#gb)"/>
<circle cx="883.9" cy="1428.2" r="13.3" fill="url(#gb)"/>
<circle cx="895.9" cy="1428.2" r="13.3" fill="url(#gb)"/>
<circle cx="907.9" cy="1428.2" r="13.3" fill="url(#gb)"/>
<circle cx="919.9" cy="1429.6" r="13.3" fill="url(#gb)"/>
<circle cx="931.9" cy="1430.9" r="13.3" fill="url(#gb)"/>
<circle cx="943.8" cy="1422.7" r="13.3" fill="url(#gb)"/>
<circle cx="955.8" cy="1427.5" r="13.3" fill="url(#gb)"/>
<circle cx="967.8" cy="1432.4" r="13.3" fill="url(#gb)"/>
<circle cx="979.8" cy="1436.5" r="13.3" fill="url(#gb)"/>
<circle cx="991.8" cy="1435.7" r="13.3" fill="url(#gb)"/>
<circle cx="1003.7" cy="1433.7" r="13.3" fill="url(#gb)"/>
<circle cx="1015.7" cy="1429.6" r="13.3" fill="url(#gb)"/>
<circle cx="1027.7" cy="1433.7" r="13.3" fill="url(#gb)"/>
<circle cx="1039.7" cy="1439.4" r="13.3" fill="url(#gb)"/>
<circle cx="1051.7" cy="1445.6" r="13.3" fill="url(#gb)"/>
<circle cx="1063.6" cy="1431.8" r="13.3" fill="url(#gb)"/>
<circle cx="1075.6" cy="1428.9" r="13.3" fill="url(#gb)"/>
<circle cx="1087.6" cy="1429.8" r="13.3" fill="url(#gb)"/>
<circle cx="1099.6" cy="1437.2" r="13.3" fill="url(#gb)"/>
<circle cx="1111.6" cy="1438.1" r="13.3" fill="url(#gb)"/>
<circle cx="1123.5" cy="1437.2" r="13.3" fill="url(#gb)"/>
<circle cx="1135.5" cy="1440.0" r="13.3" fill="url(#gb)"/>
<circle cx="1147.5" cy="1445.5" r="13.3" fill="url(#gb)"/>
<circle cx="1159.5" cy="1442.7" r="13.3" fill="url(#gb)"/>
<circle cx="1171.5" cy="1445.5" r="13.3" fill="url(#gb)"/>
<circle cx="1183.4" cy="1448.2" r="13.3" fill="url(#gb)"/>
<circle cx="1195.4" cy="1450.3" r="13.3" fill="url(#gb)"/>
<circle cx="1207.4" cy="1451.0" r="13.3" fill="url(#gb)"/>
<circle cx="1219.4" cy="1450.3" r="13.3" fill="url(#gb)"/>
<circle cx="1231.4" cy="1451.9" r="13.3" fill="url(#gb)"/>
<circle cx="1243.3" cy="1452.5" r="13.3" fill="url(#gb)"/>
<circle cx="1255.3" cy="1450.3" r="13.3" fill="url(#gb)"/>
<circle cx="1267.3" cy="1458.0" r="13.3" fill="url(#gb)"/>
<circle cx="1279.3" cy="1457.4" r="13.3" fill="url(#gb)"/>
<circle cx="1291.3" cy="1460.7" r="13.3" fill="url(#gb)"/>
<circle cx="1303.2" cy="1464.8" r="13.3" fill="url(#gb)"/>
<circle cx="1315.2" cy="1464.8" r="13.3" fill="url(#gb)"/>
<circle cx="1327.2" cy="1464.8" r="13.3" fill="url(#gb)"/>
<circle cx="1339.2" cy="1465.7" r="13.3" fill="url(#gb)"/>
<circle cx="1351.2" cy="1471.2" r="13.3" fill="url(#gb)"/>
<circle cx="1363.1" cy="1467.6" r="13.3" fill="url(#gb)"/>
<circle cx="1375.1" cy="1467.6" r="13.3" fill="url(#gb)"/>
<circle cx="1387.1" cy="1472.4" r="13.3" fill="url(#gb)"/>
<circle cx="1399.1" cy="1477.9" r="13.3" fill="url(#gb)"/>
<circle cx="1411.1" cy="1479.5" r="13.3" fill="url(#gb)"/>
<circle cx="1423.0" cy="1473.1" r="13.3" fill="url(#gb)"/>
<circle cx="1435.0" cy="1472.4" r="13.3" fill="url(#gb)"/>
<circle cx="1447.0" cy="1474.5" r="13.3" fill="url(#gb)"/>
</g>
<text x="215.5" y="2034.0" font-size="47.5" font-weight="bold" text-anchor="end" fill="#000" textLength="28.5" lengthAdjust="spacingAndGlyphs">0</text>
<text x="215.5" y="1888.7" font-size="47.5" font-weight="bold" text-anchor="end" fill="#000" textLength="85.5" lengthAdjust="spacingAndGlyphs">100</text>
<text x="215.5" y="1743.3" font-size="47.5" font-weight="bold" text-anchor="end" fill="#000" textLength="85.5" lengthAdjust="spacingAndGlyphs">200</text>
<text x="215.5" y="1598.0" font-size="47.5" font-weight="bold" text-anchor="end" fill="#000" textLength="85.5" lengthAdjust="spacingAndGlyphs">300</text>
<text x="215.5" y="1452.7" font-size="47.5" font-weight="bold" text-anchor="end" fill="#000" textLength="85.5" lengthAdjust="spacingAndGlyphs">400</text>
<text x="215.5" y="1307.3" font-size="47.5" font-weight="bold" text-anchor="end" fill="#000" textLength="85.5" lengthAdjust="spacingAndGlyphs">500</text>
<text x="215.5" y="1162.0" font-size="47.5" font-weight="bold" text-anchor="end" fill="#000" textLength="85.5" lengthAdjust="spacingAndGlyphs">600</text>
<text x="249.0" y="2086.0" font-size="47.5" font-weight="bold" text-anchor="middle" fill="#000" textLength="28.5" lengthAdjust="spacingAndGlyphs">0</text>
<text x="488.6" y="2086.0" font-size="47.5" font-weight="bold" text-anchor="middle" fill="#000" textLength="57.0" lengthAdjust="spacingAndGlyphs">20</text>
<text x="728.2" y="2086.0" font-size="47.5" font-weight="bold" text-anchor="middle" fill="#000" textLength="57.0" lengthAdjust="spacingAndGlyphs">40</text>
<text x="967.8" y="2086.0" font-size="47.5" font-weight="bold" text-anchor="middle" fill="#000" textLength="57.0" lengthAdjust="spacingAndGlyphs">60</text>
<text x="1207.4" y="2086.0" font-size="47.5" font-weight="bold" text-anchor="middle" fill="#000" textLength="57.0" lengthAdjust="spacingAndGlyphs">80</text>
<text x="1447.0" y="2086.0" font-size="47.5" font-weight="bold" text-anchor="middle" fill="#000" textLength="85.5" lengthAdjust="spacingAndGlyphs">100</text>
<text x="584.0" y="2155.0" font-size="67" font-weight="bold" text-anchor="start" fill="#000" textLength="494" lengthAdjust="spacingAndGlyphs">Cycle number</text>
<text transform="translate(84.5,1970.5) rotate(-90)" font-size="66" font-weight="bold" textLength="691" lengthAdjust="spacingAndGlyphs">Specific capacity (mAh g</text>
<text transform="translate(48.5,1279.5) rotate(-90)" font-size="40" font-weight="bold" textLength="28" lengthAdjust="spacingAndGlyphs">-1</text>
<text transform="translate(84.5,1245.5) rotate(-90)" font-size="66" font-weight="bold" textLength="16.5" lengthAdjust="spacingAndGlyphs">)</text>
<line x1="1033" y1="1222" x2="1149" y2="1222" stroke="#ff9090" stroke-width="7"/>
<circle cx="1091.5" cy="1221.0" r="14.2" fill="url(#gr)"/>
<line x1="1033" y1="1276" x2="1149" y2="1276" stroke="#8a8aff" stroke-width="4"/>
<circle cx="1091.5" cy="1275.0" r="14.2" fill="url(#gb)"/>
<text x="1162.0" y="1238.0" font-size="46" font-weight="bold" text-anchor="start" fill="#000" textLength="168" lengthAdjust="spacingAndGlyphs">Charge</text>
<text x="1162.0" y="1292.0" font-size="46" font-weight="bold" text-anchor="start" fill="#000" textLength="237" lengthAdjust="spacingAndGlyphs">Discharge</text>
<text x="1378" y="1974.5" font-size="88" font-weight="bold" text-anchor="middle" stroke="#000" stroke-width="3.6" stroke-linejoin="round" textLength="54" lengthAdjust="spacingAndGlyphs">B</text>
</g></g>
<g filter="url(#soft)"><rect x="-20" y="-20" width="1561" height="2230" fill="#fff"/><use href="#fig" transform="translate(-0.5,-0.5)"/></g>
</svg></body></html>
